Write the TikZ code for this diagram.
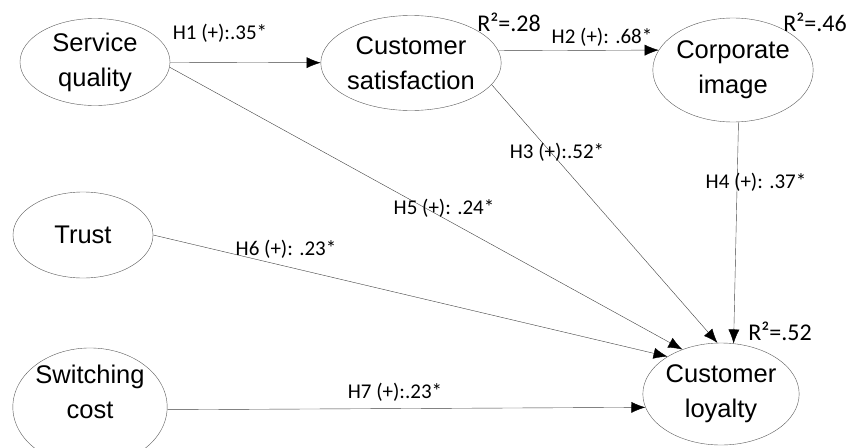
\documentclass[tikz,border=0pt]{standalone}
\usepackage{fontspec}
\setmainfont{Liberation Sans}
\newfontfamily\labelfont{Carlito}
\usetikzlibrary{arrows.meta, shapes.geometric}

\begin{document}
\begin{tikzpicture}[x=1pt, y=-1pt, >={Latex[length=14pt,width=11pt,color=black]},
  construct/.style={ellipse, draw=black!65, thin, inner sep=0pt, align=center,
    font=\fontsize{25.5}{35}\selectfont},
  effect/.style={->, draw=black!75, thin},
  coef/.style={font=\labelfont\fontsize{21}{24}\selectfont},
  rsq/.style={font=\labelfont\fontsize{24}{28}\selectfont}]

\useasboundingbox (0,0) rectangle (848,447);

% Constructs
\node[construct, minimum width=150pt, minimum height=87pt] at (95,62) (SQ) {Service\\quality};
\node[construct, minimum width=164pt, minimum height=95pt] at (411,63) (CS) {Customer\\satisfaction};
\node[construct, minimum width=144pt, minimum height=104pt] at (733,70) (CI) {Corporate\\image};
\node[construct, minimum width=140pt, minimum height=86pt] at (83,235) (TR) {Trust};
\node[construct, minimum width=146pt, minimum height=94pt, text depth=30pt] at (90,407) (SC) {Switching\\cost};
\node[construct, minimum width=154pt, minimum height=102pt] at (721,394) (CL) {Customer\\loyalty};

% Explained variance
\node[rsq] at (509,22) (R2CS) {R²=.28};
\node[rsq] at (815,22) (R2CI) {R²=.46};
\node[rsq] at (780,331) (R2CL) {R²=.52};

% Paths
\draw[effect] (SQ) -- (CS);
\draw[effect] (CS.8) -- (CI.165);
\draw[effect] (CS.-15) -- (CL.94);
\draw[effect] (CI.-84) -- (CL.76);
\draw[effect] (SQ.-4) -- (CL.131);
\draw[effect] (TR.0) -- (CL.145);
\draw[effect] (SC.-2) -- (CL.190);

% Path coefficients
\node[coef] at (220,33) (H1) {H1 (+):.35*};
\node[coef] at (602,37) (H2) {H2 (+): .68*};
\node[coef] at (557,152) (H3) {H3 (+):.52*};
\node[coef] at (756,182) (H4) {H4 (+): .37*};
\node[coef] at (444,208) (H5) {H5 (+): .24*};
\node[coef] at (286,249) (H6) {H6 (+): .23*};
\node[coef] at (395,392) (H7) {H7 (+):.23*};
\end{tikzpicture}
\end{document}
